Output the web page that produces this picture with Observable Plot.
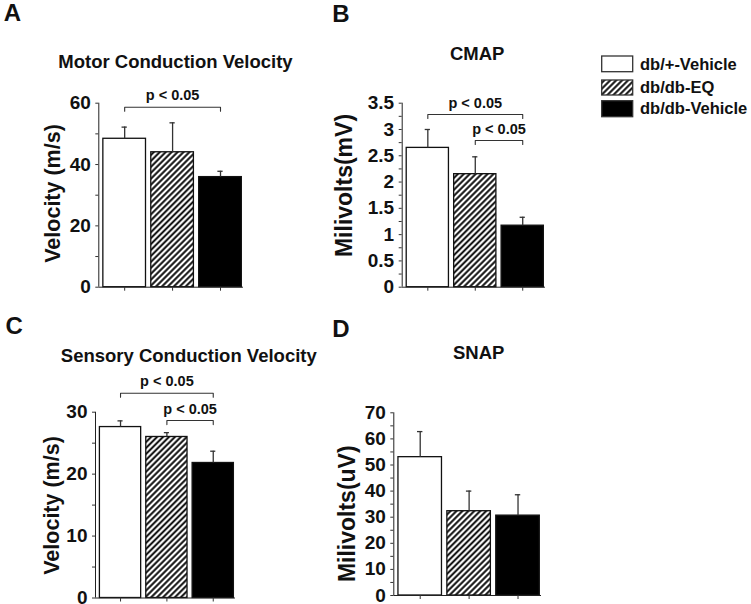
<!DOCTYPE html>
<html><head><meta charset="utf-8">
<script src="https://cdn.jsdelivr.net/npm/d3@7"></script>
<script src="https://cdn.jsdelivr.net/npm/@observablehq/plot@0.6"></script>
<style>
body{margin:0;background:#fff;}
#chart{position:relative;width:751px;height:604px;background:#fff;font-family:"Liberation Sans",Arial,sans-serif;overflow:hidden;}
#chart svg{position:absolute;overflow:visible;}
</style></head><body>
<div id="chart"></div>
<svg width="0" height="0" style="position:absolute;left:0;top:0">
<defs><pattern id="hatch" patternUnits="userSpaceOnUse" width="4.2" height="4.2" patternTransform="rotate(45)">
<rect width="4.2" height="4.2" fill="#fff"/><line x1="2.1" y1="0" x2="2.1" y2="4.2" stroke="#000" stroke-width="1.9"/></pattern></defs></svg>
<script>
// ---- data ----
const groups = ["db/+-Vehicle", "db/db-EQ", "db/db-Vehicle"];
const groupFills = ["#ffffff", "url(#hatch)", "#000000"];

const motorVel = [48.4, 44.0, 35.9];
const motorVelErr = [3.8, 9.6, 1.9];
const motorTicks = [0, 20, 40, 60];
const motorMinor = [10, 30, 50];
const motorBrackets = [{from: 0, to: 2, y: 58.7, label: "p < 0.05"}];

const cmap = [2.65, 2.15, 1.17];
const cmapErr = [0.35, 0.33, 0.16];
const cmapTicks = [0, 0.5, 1, 1.5, 2, 2.5, 3, 3.5];
const cmapMinor = [0.25, 0.75, 1.25, 1.75, 2.25, 2.75, 3.25];
const cmapBrackets = [{from: 0, to: 2, y: 3.285, label: "p < 0.05"}, {from: 1, to: 2, y: 2.79, label: "p < 0.05"}];

const sensoryVel = [27.6, 26.0, 21.8];
const sensoryVelErr = [1.0, 0.7, 1.9];
const sensoryTicks = [0, 10, 20, 30];
const sensoryMinor = [5, 15, 25];
const sensoryBrackets = [{from: 0, to: 2, y: 33.07, label: "p < 0.05"}, {from: 1, to: 2, y: 28.66, label: "p < 0.05"}];

const snap = [53.0, 32.3, 30.6];
const snapErr = [9.8, 7.7, 8.0];
const snapTicks = [0, 10, 20, 30, 40, 50, 60, 70];
const snapMinor = [5, 15, 25, 35, 45, 55, 65];
const snapBrackets = [];

// ---- layout ----
const xDomain = [-0.54, 2.48];
const barHalf = 0.445;
const capHalf = 0.055;
const font = "'Liberation Sans', Arial, sans-serif";

const panels = [
  {values: motorVel, errs: motorVelErr, ticks: motorTicks, minor: motorMinor, domain: [0, 60], brackets: motorBrackets,
   title: "Motor Conduction Velocity", ylabel: "Velocity (m/s)", letter: "A",
   L: {left: 0, top: 0, w: 320, h: 300, ml: 98.3, mr: 77, mt: 102.7, mb: 13.3,
       tdx: 4.3, tdy: -41, ldx: -95, ldy: -89.4, ydx: -45.6, ydy: -1.7, yfs: 21.5}},
  {values: cmap, errs: cmapErr, ticks: cmapTicks, minor: cmapMinor, domain: [0, 3.5], brackets: cmapBrackets,
   title: "CMAP", ylabel: "Milivolts(mV)", letter: "B",
   L: {left: 320, top: 0, w: 240, h: 300, ml: 81.7, mr: 15, mt: 102.7, mb: 13.3,
       tdx: 3.3, tdy: -48.7, ldx: -70, ldy: -88.5, ydx: -57.7, ydy: -9.7, yfs: 23}},
  {values: sensoryVel, errs: sensoryVelErr, ticks: sensoryTicks, minor: sensoryMinor, domain: [0, 30], brackets: sensoryBrackets,
   title: "Sensory Conduction Velocity", ylabel: "Velocity (m/s)", letter: "C",
   L: {left: 0, top: 300, w: 320, h: 304, ml: 95, mr: 85, mt: 111.7, mb: 6.5,
       tdx: 23.3, tdy: -56.2, ldx: -90, ldy: -85.9, ydx: -43, ydy: 0.4, yfs: 21.5}},
  {values: snap, errs: snapErr, ticks: snapTicks, minor: snapMinor, domain: [0, 70], brackets: snapBrackets,
   title: "SNAP", ylabel: "Milivolts(uV)", letter: "D",
   L: {left: 320, top: 300, w: 240, h: 304, ml: 73.3, mr: 19, mt: 112.3, mb: 9,
       tdx: 11, tdy: -59.8, ldx: -61.6, ldy: -83.3, ydx: -46.6, ydy: 9.6, yfs: 23}}
];

const chart = document.getElementById("chart");

for (const cfg of panels) {
  const L = cfg.L;
  const rows = groups.map((g, i) => ({group: g, i, value: cfg.values[i], err: cfg.errs[i]}));
  const drop = cfg.domain[1] * 0.022;
  const bracketPts = cfg.brackets.flatMap((b, k) => [
    {k, x: b.from, y: b.y - drop}, {k, x: b.from, y: b.y},
    {k, x: b.to, y: b.y}, {k, x: b.to, y: b.y - drop}
  ]);
  const svg = Plot.plot({
    width: L.w, height: L.h,
    marginLeft: L.ml, marginRight: L.mr, marginTop: L.mt, marginBottom: L.mb,
    x: {domain: xDomain},
    y: {domain: cfg.domain},
    color: {domain: groups, range: groupFills},
    style: {fontFamily: font, color: "#111", background: "transparent", overflow: "visible"},
    marks: [
      Plot.rectY(rows, {x1: d => d.i - barHalf, x2: d => d.i + barHalf, y1: 0, y2: "value",
        fill: "group", stroke: "#111", strokeWidth: 1.3}),
      Plot.ruleX(rows, {x: "i", y1: "value", y2: d => d.value + d.err, stroke: "#333", strokeWidth: 1.3}),
      Plot.ruleY(rows, {x1: d => d.i - capHalf, x2: d => d.i + capHalf, y: d => d.value + d.err, stroke: "#333", strokeWidth: 1.3}),
      Plot.ruleY([cfg.domain[0]], {stroke: "#222", strokeWidth: 1}),
      Plot.ruleX([xDomain[0]], {stroke: "#222", strokeWidth: 1}),
      Plot.axisY(cfg.ticks, {tickSize: 3, tickPadding: 5, fontSize: 19, fontWeight: "bold",
        tickFormat: d => String(d), label: null, stroke: "#333"}),
      Plot.axisY(cfg.minor, {tickSize: 3, tickFormat: () => "", label: null, stroke: "#333"}),
      Plot.axisX([0, 1, 2], {tickSize: 4, tickFormat: () => "", label: null, stroke: "#333"}),
      Plot.line(bracketPts, {x: "x", y: "y", z: "k", stroke: "#333", strokeWidth: 1.1}),
      Plot.text(cfg.brackets, {x: d => (d.from + d.to) / 2, y: "y", text: "label", dy: -11.5,
        fontSize: 14.5, fontWeight: "bold"}),
      Plot.text([cfg.title], {frameAnchor: "top", textAnchor: "middle", lineAnchor: "middle",
        dx: L.tdx, dy: L.tdy, fontSize: 18.5, fontWeight: "bold"}),
      Plot.text([cfg.letter], {frameAnchor: "top-left", textAnchor: "start", lineAnchor: "middle",
        dx: L.ldx, dy: L.ldy, fontSize: 24, fontWeight: "bold"}),
      Plot.text([cfg.ylabel], {frameAnchor: "left", textAnchor: "middle", lineAnchor: "middle", rotate: -90,
        dx: L.ydx, dy: L.ydy, fontSize: L.yfs, fontWeight: "bold"})
    ]
  });
  svg.style.left = L.left + "px";
  svg.style.top = L.top + "px";
  chart.appendChild(svg);
}

// ---- legend ----
const legendY = [6, 30, 50.7];
const legendH = [15.7, 15, 16];
const leg = d3.select(chart).append("svg")
  .attr("width", 160).attr("height", 80)
  .style("left", "596px").style("top", "50px");
groups.forEach((g, i) => {
  leg.append("rect").attr("x", 5.7).attr("y", legendY[i]).attr("width", 31).attr("height", legendH[i])
    .attr("fill", groupFills[i]).attr("stroke", "#333").attr("stroke-width", 1.3);
  leg.append("text").attr("x", 44).attr("y", legendY[i] + legendH[i] / 2).attr("dy", "0.35em")
    .attr("font-family", font).attr("font-weight", "bold").attr("font-size", 16.5).attr("fill", "#111")
    .text(g);
});
</script>
</body></html>
